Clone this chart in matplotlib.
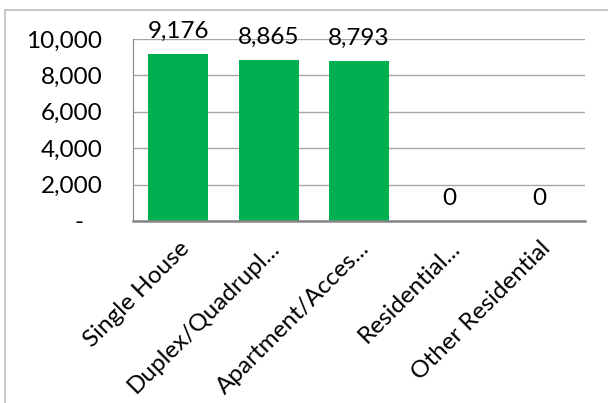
import matplotlib.pyplot as plt
from matplotlib.patches import Rectangle

categories = ["Single House", "Duplex/Quadrupl...", "Apartment/Acces...",
              "Residential...", "Other Residential"]
values = [9176, 8865, 8793, 0, 0]
yticks = [0, 2000, 4000, 6000, 8000, 10000]
ytick_labels = ["-   ", "2,000", "4,000", "6,000", "8,000", "10,000"]

plt.rcParams["font.family"] = ["Lato", "DejaVu Sans"]

fig = plt.figure(figsize=(6.08, 4.03), dpi=100)
ax = fig.add_axes([133 / 608, 1 - 221 / 403, (585 - 133) / 608, 182 / 403])

x = range(len(categories))
ax.bar(x, values, width=0.665, color="#00b050", zorder=3)
for xi, v in zip(x, values):
    ax.annotate(f"{v:,}", (xi, v), xytext=(0, 8.5), textcoords="offset points",
                ha="center", va="bottom", fontsize=17.5)

ax.set_xlim(-0.5, len(categories) - 0.5)
ax.set_ylim(0, 10000)
ax.set_yticks(yticks)
ax.set_yticklabels(ytick_labels, fontsize=17.5)
ax.set_xticks(list(x))
ax.set_xticklabels(categories, rotation=45, ha="right", va="top",
                   rotation_mode="anchor", fontsize=17.5)
ax.tick_params(axis="x", length=0, pad=12)
ax.tick_params(axis="y", length=0, pad=22)
ax.grid(axis="y", color="#a6a6a6", linewidth=1, zorder=0)
for side in ["top", "right"]:
    ax.spines[side].set_visible(False)
ax.spines["left"].set_color("#868686")
ax.spines["bottom"].set_color("#868686")
ax.spines["bottom"].set_linewidth(1.8)
ax.spines["bottom"].set_zorder(4)

fig.patches.append(Rectangle((5 / 608, -0.02), 1.1, 1 - 10 / 403 + 0.02,
                             transform=fig.transFigure, fill=False,
                             edgecolor="#bfbfbf", linewidth=1.2))

fig.savefig("out.png", dpi=100)
